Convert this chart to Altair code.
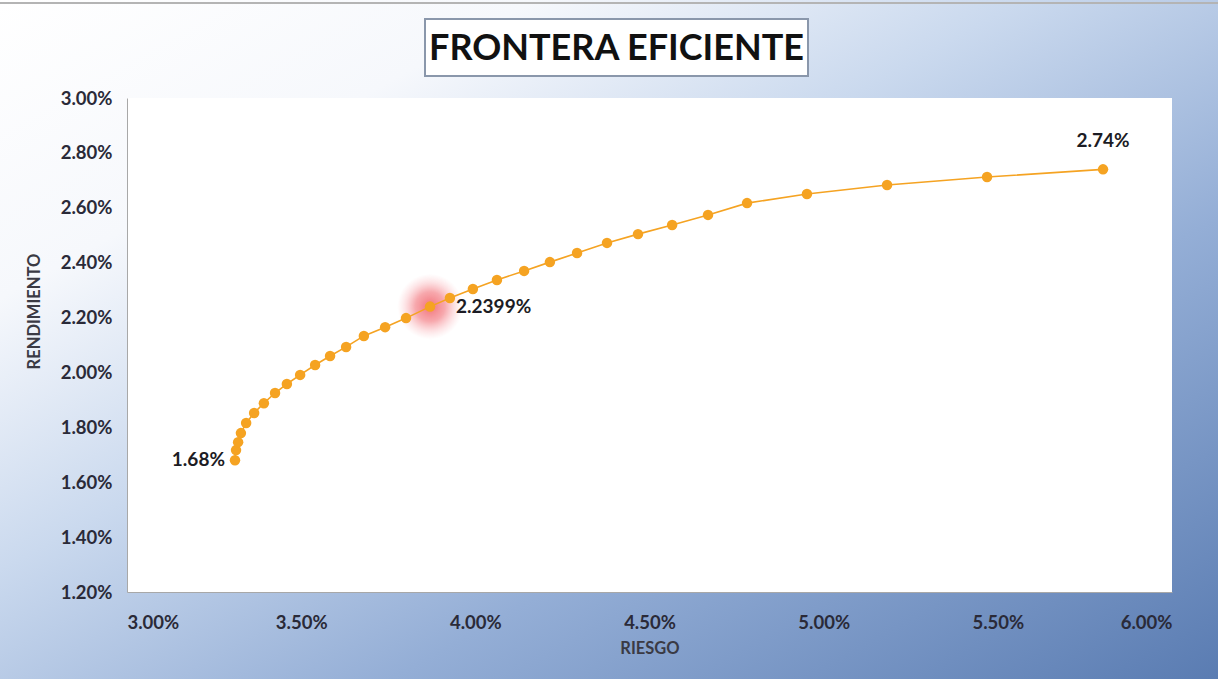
import altair as alt
import pandas as pd

# ---- data ----
riesgo = [0.03310, 0.03313, 0.03319, 0.03327, 0.03342, 0.03365, 0.03393, 0.03425,
          0.03459, 0.03497, 0.03540, 0.03583, 0.03629, 0.03680, 0.03741, 0.03801,
          0.03870, 0.03927, 0.03993, 0.04062, 0.04140, 0.04214, 0.04292, 0.04378,
          0.04467, 0.04565, 0.04668, 0.04780, 0.04952, 0.05182, 0.05469, 0.05802]
rendimiento = [0.01680, 0.01717, 0.01746, 0.01779, 0.01816, 0.01852, 0.01888, 0.01925,
               0.01958, 0.01991, 0.02027, 0.02060, 0.02093, 0.02133, 0.02165, 0.02198,
               0.022399, 0.02271, 0.02304, 0.02337, 0.02370, 0.02402, 0.02435, 0.02472,
               0.02504, 0.02537, 0.02574, 0.02617, 0.02650, 0.02683, 0.02712, 0.02740]
x_ticks = [0.030, 0.035, 0.040, 0.045, 0.050, 0.055, 0.060]
y_ticks = [0.012, 0.014, 0.016, 0.018, 0.020, 0.022, 0.024, 0.026, 0.028, 0.030]
label_idx = [0, 16, 31]
label_txt = ["1.68%", "2.2399%", "2.74%"]
optimo_idx = 16

TITLE = "FRONTERA EFICIENTE"
X_TITLE = "RIESGO"
Y_TITLE = "RENDIMIENTO"

ORANGE = "#F5A322"
W, H = 1045, 494
PAD_L, PAD_T, PAD_R, PAD_B = 127, 98, 46, 87

df = pd.DataFrame({"riesgo": riesgo, "rendimiento": rendimiento,
                   "orden": list(range(len(riesgo)))})
lab = pd.DataFrame({"riesgo": [riesgo[i] for i in label_idx],
                    "rendimiento": [rendimiento[i] for i in label_idx],
                    "txt": label_txt})
opt = pd.DataFrame({"riesgo": [riesgo[optimo_idx]], "rendimiento": [rendimiento[optimo_idx]]})
one = pd.DataFrame({"k": [0]})

xenc = alt.X("riesgo:Q",
             scale=alt.Scale(domain=[0.03, 0.06], nice=False, zero=False),
             axis=alt.Axis(values=x_ticks, format=".2%", title=X_TITLE, grid=False,
                           ticks=False, tickSize=0, labelPadding=21, titlePadding=9,
                           domainColor="#a8a8a8", zindex=1))
yenc = alt.Y("rendimiento:Q",
             scale=alt.Scale(domain=[0.012, 0.030], nice=False, zero=False),
             axis=alt.Axis(values=y_ticks, format=".2%", title=Y_TITLE, grid=False,
                           ticks=False, tickSize=0, labelPadding=15, titlePadding=18,
                           titleY=213,
                           domainColor="#a8a8a8", zindex=1))

bg = alt.Chart(one).mark_rect(
    color=alt.LinearGradient(
        gradient="linear", x1=0, y1=0, x2=1, y2=1,
        stops=[alt.GradientStop(offset=0.0, color="#ffffff"),
               alt.GradientStop(offset=0.22, color="#f6f8fc"),
               alt.GradientStop(offset=0.42, color="#cad9ee"),
               alt.GradientStop(offset=0.66, color="#94aed6"),
               alt.GradientStop(offset=1.0, color="#5a7cb2")])
).encode(x=alt.value(-PAD_L), x2=alt.value(W + PAD_R),
         y=alt.value(-PAD_T), y2=alt.value(H + PAD_B))

topline = alt.Chart(one).mark_rule(color="#b4b4b4", strokeWidth=2).encode(
    x=alt.value(-PAD_L), x2=alt.value(W + PAD_R), y=alt.value(-95))

plotbg = alt.Chart(one).mark_rect(color="white").encode(
    x=alt.value(0), x2=alt.value(W), y=alt.value(0), y2=alt.value(H))

titlebox = alt.Chart(one).mark_rect(fill="white", stroke="#8a97ab", strokeWidth=2).encode(
    x=alt.value(298), x2=alt.value(681), y=alt.value(-79), y2=alt.value(-22))

title = alt.Chart(one).mark_text(
    text=TITLE, font="Lato", fontSize=36, fontWeight="bold", color="#111111",
    align="center", baseline="middle").encode(x=alt.value(489.5), y=alt.value(-49))

glow = alt.Chart(opt).mark_circle(
    size=4300, opacity=1,
    color=alt.RadialGradient(
        gradient="radial", x1=0.5, y1=0.5, r1=0, x2=0.5, y2=0.5, r2=0.5,
        stops=[alt.GradientStop(offset=0.0, color="rgba(240,90,98,0.85)"),
               alt.GradientStop(offset=0.45, color="rgba(242,110,118,0.6)"),
               alt.GradientStop(offset=0.75, color="rgba(246,140,148,0.25)"),
               alt.GradientStop(offset=1.0, color="rgba(250,170,175,0)")])
).encode(x=xenc, y=yenc)

line = alt.Chart(df).mark_line(color=ORANGE, strokeWidth=1.6).encode(
    x=xenc, y=yenc, order="orden:Q")
pts = alt.Chart(df).mark_circle(color=ORANGE, size=110, opacity=1).encode(x=xenc, y=yenc)

lab_font = dict(font="Lato", fontSize=19, fontWeight="bold", color="#1c1c24")
lab1 = alt.Chart(lab.iloc[[0]]).mark_text(align="right", baseline="middle", dx=-10, **lab_font).encode(
    x=xenc, y=yenc, text="txt:N")
lab2 = alt.Chart(lab.iloc[[1]]).mark_text(align="left", baseline="middle", dx=26, **lab_font).encode(
    x=xenc, y=yenc, text="txt:N")
lab3 = alt.Chart(lab.iloc[[2]]).mark_text(align="center", baseline="middle", dy=-28, **lab_font).encode(
    x=xenc, y=yenc, text="txt:N")

chart = alt.layer(bg, topline, plotbg, titlebox, title, glow, line, pts, lab1, lab2, lab3).properties(
    width=W, height=H,
    autosize=alt.AutoSizeParams(type="none"),
    padding={"left": PAD_L, "top": PAD_T, "right": PAD_R, "bottom": PAD_B},
    background="white",
).configure_view(strokeWidth=0).configure_axis(
    labelFont="Lato", labelFontSize=18.5, labelFontWeight="bold", labelColor="#2a2a38",
    titleFont="Lato", titleFontSize=16.5, titleFontWeight="bold", titleColor="#3a3a44",
)

chart.save("out.html", embed_options={"renderer": "svg", "actions": False})
